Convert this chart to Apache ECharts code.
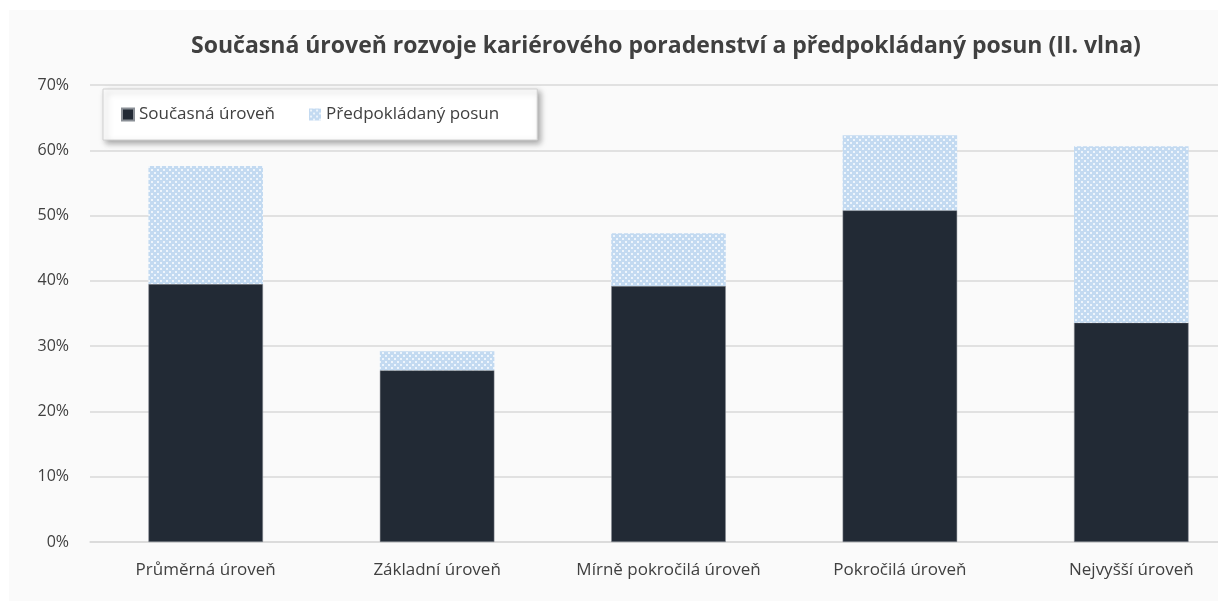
<!DOCTYPE html>
<html>

<head>
    <meta charset="utf-8">
    <title>Současná úroveň rozvoje kariérového poradenství</title>
    <script src="https://cdn.jsdelivr.net/npm/echarts@6/dist/echarts.min.js"></script>
    <style>
        html, body { margin: 0; padding: 0; background: #fff; overflow: hidden; }
        #panel { position: absolute; left: 9px; top: 10px; width: 1209px; height: 591px; background: #fafafa; }
        #chart { position: absolute; left: 0; top: 0; width: 1218px; height: 601px; }
    </style>
</head>

<body>
    <div id="panel"></div>
    <div id="chart"></div>

    <script>
        // values (percent)
        const categories = ['Průměrná úroveň', 'Základní úroveň', 'Mírně pokročilá úroveň', 'Pokročilá úroveň', 'Nejvyšší úroveň'];
        const currentLevel = [39.5, 26.3, 39.2, 50.8, 33.6];
        const expectedShift = [18.1, 2.9, 8.1, 11.5, 27.0];
        const yTicks = [0, 10, 20, 30, 40, 50, 60, 70];

        // dotted light blue fill like the original
        function dotPattern() {
            const c = document.createElement('canvas');
            c.width = 6;
            c.height = 6;
            const ctx = c.getContext('2d');
            ctx.fillStyle = '#c3daf1';
            ctx.fillRect(0, 0, 6, 6);
            ctx.fillStyle = '#eef5fc';
            ctx.fillRect(1, 1, 2, 2);
            ctx.fillRect(4, 4, 2, 2);
            return c;
        }

        const font = '"Open Sans", "Noto Sans", sans-serif';
        const chart = echarts.init(document.getElementById('chart'));

        chart.setOption({
            backgroundColor: 'transparent',
            animation: false,
            title: {
                text: 'Současná úroveň rozvoje kariérového poradenství a předpokládaný posun (II. vlna)',
                left: 661,
                textAlign: 'center',
                top: 30,
                textStyle: { fontFamily: font, fontSize: 23, fontWeight: 'bold', color: '#404040' }
            },
            legend: {
                left: 103,
                top: 89,
                padding: [17, 38, 17, 18],
                itemWidth: 12,
                itemHeight: 12,
                itemGap: 34,
                backgroundColor: '#ffffff',
                borderColor: '#d0d0d0',
                borderWidth: 1,
                shadowColor: 'rgba(0,0,0,0.35)',
                shadowBlur: 6,
                shadowOffsetX: 3,
                shadowOffsetY: 3,
                textStyle: { fontFamily: font, fontSize: 17, color: '#404040' },
                data: [
                    { name: 'Současná úroveň', icon: 'rect' },
                    { name: 'Předpokládaný posun', icon: 'rect' }
                ]
            },
            grid: { left: 90, top: 85, width: 1157, height: 457, outerBoundsMode: 'none' },
            xAxis: {
                type: 'category',
                data: categories,
                axisLine: { lineStyle: { color: '#d9d9d9', width: 1.5 } },
                axisTick: { show: false },
                axisLabel: { interval: 0, fontFamily: font, fontSize: 17, color: '#404040', margin: 20 }
            },
            yAxis: {
                type: 'value',
                min: yTicks[0],
                max: yTicks[yTicks.length - 1],
                interval: 10,
                axisLine: { show: false },
                axisTick: { show: false },
                axisLabel: { fontFamily: font, fontSize: 16, color: '#404040', margin: 21, formatter: '{value}%' },
                splitLine: { lineStyle: { color: '#d9d9d9', width: 1.5 } }
            },
            series: [
                {
                    name: 'Současná úroveň',
                    type: 'bar',
                    stack: 'total',
                    barWidth: '49.5%',
                    data: currentLevel,
                    itemStyle: { color: '#222a35', borderColor: '#8a8f96', borderWidth: 0.5 }
                },
                {
                    name: 'Předpokládaný posun',
                    type: 'bar',
                    stack: 'total',
                    data: expectedShift,
                    itemStyle: { color: { image: dotPattern(), repeat: 'repeat' } }
                }
            ]
        });
    </script>
</body>

</html>
